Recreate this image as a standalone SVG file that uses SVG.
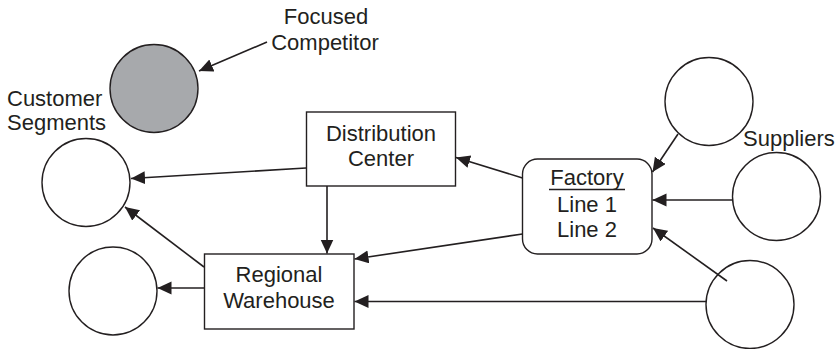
<svg xmlns="http://www.w3.org/2000/svg" width="840" height="349" viewBox="0 0 840 349">
  <defs>
    <marker id="arrow" markerUnits="userSpaceOnUse" markerWidth="15" markerHeight="14" refX="14" refY="6.5" orient="auto">
      <path d="M0,0 L14,6.5 L0,13 z" fill="#231f20"/>
    </marker>
    <style>
      .node { fill: #ffffff; stroke: #231f20; stroke-width: 1.4; }
      .competitor { fill: #a7a9ac; stroke: #231f20; stroke-width: 1.4; }
      .label { font-family: "Liberation Sans", Arial, Helvetica, sans-serif; font-size: 22px; fill: #231f20; }
      .mid { text-anchor: middle; }
      .edge { stroke: #231f20; stroke-width: 1.6; fill: none; marker-end: url(#arrow); }
    </style>
  </defs>

  <rect width="840" height="349" fill="#ffffff"/>

  <!-- competitor -->
  <g id="focused-competitor">
    <circle class="competitor" cx="154" cy="88.5" r="44"/>
    <text class="label mid" x="326" y="24">Focused</text>
    <text class="label mid" x="325" y="50">Competitor</text>
  </g>

  <!-- customer segments -->
  <g id="customer-segments-label">
    <text class="label" x="7" y="106">Customer</text>
    <text class="label" x="7" y="130">Segments</text>
  </g>
  <g id="customer-1">
    <circle class="node" cx="86" cy="182.5" r="44"/>
  </g>
  <g id="customer-2">
    <circle class="node" cx="113" cy="291" r="44"/>
  </g>

  <!-- distribution center -->
  <g id="distribution-center">
    <rect class="node" x="306.5" y="112" width="149" height="74"/>
    <text class="label mid" x="381" y="140.5">Distribution</text>
    <text class="label mid" x="381" y="165.5">Center</text>
  </g>

  <!-- regional warehouse -->
  <g id="regional-warehouse">
    <rect class="node" x="204.5" y="254" width="149.5" height="75"/>
    <text class="label mid" x="279" y="282">Regional</text>
    <text class="label mid" x="279" y="308">Warehouse</text>
  </g>

  <!-- factory -->
  <g id="factory">
    <rect class="node" x="522.5" y="159" width="129.5" height="95" rx="15" ry="15"/>
    <text class="label mid" x="587" y="184.5">Factory</text>
    <line x1="549" y1="189.5" x2="625" y2="189.5" stroke="#231f20" stroke-width="1.6"/>
    <text class="label mid" x="587" y="211.5">Line 1</text>
    <text class="label mid" x="587" y="236.5">Line 2</text>
  </g>

  <!-- suppliers -->
  <g id="suppliers-label">
    <text class="label" x="743" y="146">Suppliers</text>
  </g>
  <g id="supplier-1">
    <circle class="node" cx="709" cy="101.5" r="44"/>
  </g>
  <g id="supplier-2">
    <circle class="node" cx="776.5" cy="196.5" r="44"/>
  </g>
  <g id="supplier-3">
    <circle class="node" cx="750" cy="304.5" r="44"/>
  </g>

  <!-- connectors -->
  <g id="connectors">
    <line class="edge" x1="267" y1="42" x2="199" y2="71"/>
    <line class="edge" x1="306" y1="168" x2="131" y2="178.5"/>
    <line class="edge" x1="327" y1="186" x2="327" y2="253.5"/>
    <line class="edge" x1="204" y1="267" x2="125" y2="207"/>
    <line class="edge" x1="204" y1="288" x2="157.5" y2="288"/>
    <line class="edge" x1="522.5" y1="178" x2="456" y2="157.5"/>
    <line class="edge" x1="522.5" y1="234" x2="354.5" y2="259"/>
    <line class="edge" x1="706" y1="301.5" x2="354.5" y2="301.5"/>
    <line class="edge" x1="678" y1="134" x2="652.5" y2="172"/>
    <line class="edge" x1="732.5" y1="200" x2="652.5" y2="200"/>
    <line class="edge" x1="727" y1="281" x2="653" y2="228"/>
  </g>
</svg>
